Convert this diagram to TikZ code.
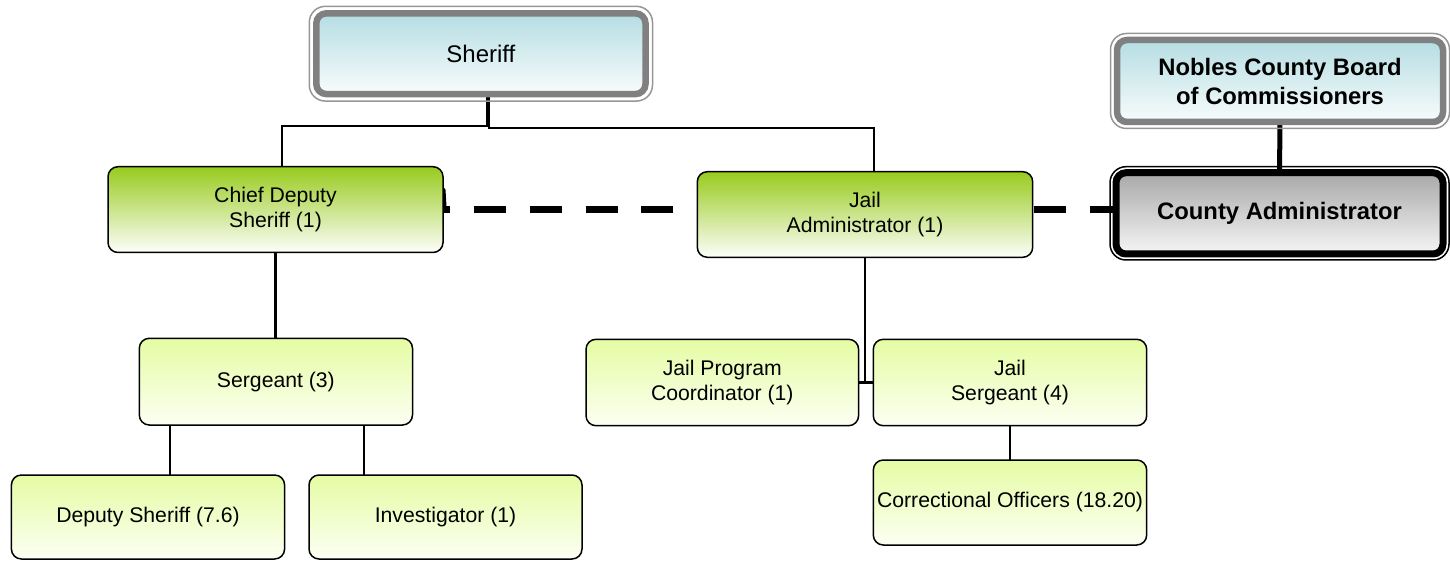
\documentclass[tikz,border=0pt]{standalone}
\usepackage{fontspec}
\setmainfont{Liberation Sans}
\usetikzlibrary{backgrounds}
\definecolor{blueTop}{RGB}{181,221,227}
\definecolor{blueBot}{RGB}{248,252,252}
\definecolor{gTop}{RGB}{152,203,30}
\definecolor{gBot}{RGB}{253,254,250}
\definecolor{lgTop}{RGB}{229,252,163}
\definecolor{lgBot}{RGB}{252,255,243}
\definecolor{grayTop}{RGB}{168,168,168}
\definecolor{grayBot}{RGB}{246,246,246}
\definecolor{bandGray}{RGB}{128,128,128}
\definecolor{outerGray}{RGB}{150,150,150}
\begin{document}
\begin{tikzpicture}[x=1pt,y=-1pt,
  reg/.style={font=\fontsize{21.2}{25.5}\selectfont},
  boxbase/.style={rectangle, rounded corners=10pt, inner sep=0pt, outer sep=0pt,
    align=center, draw=black, line width=1.5pt},
  lgbox/.style={boxbase, reg, top color=lgTop, bottom color=lgBot},
  gbox/.style={boxbase, reg, top color=gTop, bottom color=gBot},
  topbox/.style={boxbase, draw=bandGray, line width=6.5pt, top color=blueTop, bottom color=blueBot},
  cabox/.style={boxbase, draw=black, line width=7pt, top color=grayTop, bottom color=grayBot},
  boldtxt/.style={font=\bfseries\fontsize{23.8}{29}\selectfont},
  conn/.style={draw=black, line width=2.2pt},
  sconn/.style={draw=black, line width=1.6pt},
  dashline/.style={draw=black, line width=7.5pt, dash pattern=on 31.8pt off 23.9pt},
  outline/.style={rounded corners=16pt, line width=1.5pt},
]
\useasboundingbox (0,0) rectangle (1450,561);

% nodes
\node[topbox, minimum width=329.2pt, minimum height=80.7pt,
  font=\fontsize{24}{28}\selectfont] (sheriff) at (480.9,53.7) {Sheriff};
\node[topbox, boldtxt, minimum width=326pt, minimum height=82pt] (nobles) at (1280,81)
  {Nobles County Board\\of Commissioners};
\node[cabox, boldtxt, minimum width=327pt, minimum height=81.3pt] (county) at (1279.5,213.35)
  {County Administrator};
\node[gbox, minimum width=335pt, minimum height=85.8pt] (chief) at (275.5,209.6)
  {Chief Deputy\\Sheriff (1)};
\node[gbox, minimum width=335.4pt, minimum height=85.6pt] (jadm) at (865,214.5)
  {Jail\\Administrator (1)};
\node[lgbox, minimum width=273.2pt, minimum height=86.7pt] (serg) at (275.9,381.65)
  {Sergeant (3)};
\node[lgbox, minimum width=273.2pt, minimum height=84pt] (dep) at (148,517)
  {Deputy Sheriff (7.6)};
\node[lgbox, minimum width=273pt, minimum height=84pt] (inv) at (445.5,517)
  {Investigator (1)};
\node[lgbox, minimum width=272.6pt, minimum height=86.4pt] (jprog) at (722.3,382.5)
  {Jail Program\\Coordinator (1)};
\node[lgbox, minimum width=273.4pt, minimum height=86.4pt] (jserg) at (1010,382.5)
  {Jail\\Sergeant (4)};
\node[lgbox, minimum width=273.4pt, minimum height=85pt] (corr) at (1010,502.5)
  {Correctional Officers (18.20)};

% connectors (behind boxes)
\begin{pgfonlayer}{background}
\draw[sconn] ([xshift=6pt]sheriff.south) |- ([xshift=6.5pt,yshift=40.7pt]chief.north)
  -- ([xshift=6.5pt]chief.north);
\draw[sconn] ([xshift=8pt]sheriff.south) |- ([xshift=9pt,yshift=43.7pt]jadm.north)
  -- ([xshift=9pt]jadm.north);
\draw[conn] (chief.south) -- (chief.south |- serg.north);
\draw[conn] ([xshift=21.6pt]dep.north) -- ([xshift=21.6pt]dep.north |- serg.south);
\draw[conn] ([xshift=-81.9pt]inv.north) -- ([xshift=-81.9pt]inv.north |- serg.south);
\draw[conn, line width=2.8pt] (jadm.south) -- (jadm.south |- jserg.west);
\draw[conn, line width=2.8pt] (jprog.east) -- (jserg.west);
\draw[conn] (jserg.south) -- (corr.north);
\draw[black, line width=5pt] (nobles.south) -- (county.north);
\end{pgfonlayer}

% outer lines of the framed boxes
\draw[outline, draw=outerGray] ([xshift=-7pt,yshift=7pt]sheriff.north west)
  rectangle ([xshift=7pt,yshift=-7pt]sheriff.south east);
\draw[outline, draw=outerGray] ([xshift=-6.5pt,yshift=6.5pt]nobles.north west)
  rectangle ([xshift=6.5pt,yshift=-6.5pt]nobles.south east);
\draw[outline, draw=black] ([xshift=-6pt,yshift=6pt]county.north west)
  rectangle ([xshift=6pt,yshift=-6pt]county.south east);

% dashed links
\draw[dashline, dash phase=24.4pt] (chief.east) -- (chief.east -| jadm.west);
\fill[black] ([yshift=23pt]chief.east) -- ([xshift=2.5pt,yshift=20pt]chief.east)
  -- ([xshift=3.5pt,yshift=3pt]chief.east) -- ([yshift=3pt]chief.east) -- cycle;
\draw[dashline, dash phase=54pt] ([yshift=5pt]jadm.east) -- ([yshift=5pt]jadm.east -| county.west);
\end{tikzpicture}
\end{document}
